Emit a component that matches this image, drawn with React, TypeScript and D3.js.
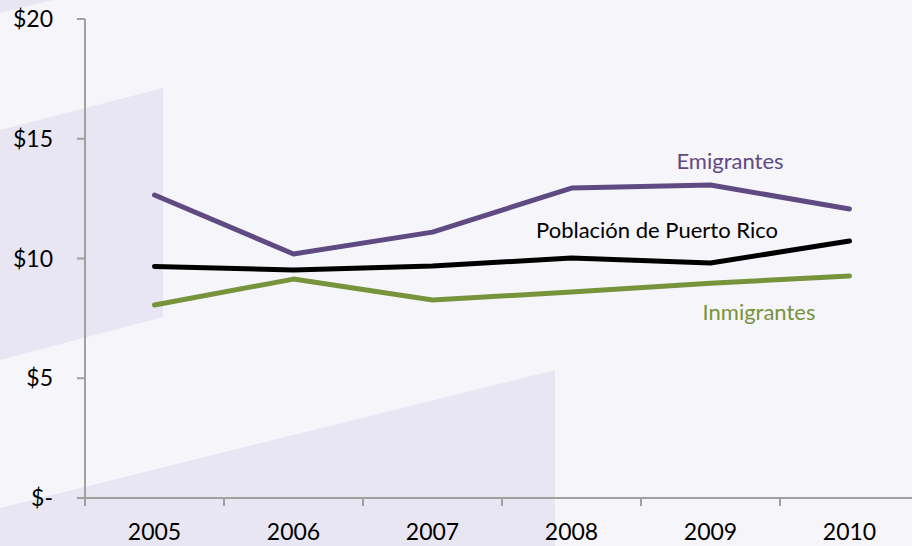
import * as d3 from 'd3';

const years = ['2005', '2006', '2007', '2008', '2009', '2010'];
const emigrantes = [12.65, 10.19, 11.1, 12.94, 13.07, 12.07];
const poblacion = [9.67, 9.52, 9.69, 10.02, 9.81, 10.73];
const inmigrantes = [8.06, 9.14, 8.27, 8.6, 8.97, 9.27];
const yTicks = [0, 5, 10, 15, 20];

const seriesNames = ['Emigrantes', 'Población de Puerto Rico', 'Inmigrantes'];
const seriesColors = ['#5f4a82', '#000000', '#77933c'];

export default function App() {
  const width = 912;
  const height = 546;
  const left = 85;
  const band = 139;

  const x = d3.scaleBand<string>()
    .domain(years)
    .range([left, left + band * years.length]);

  const y = d3.scaleLinear().domain([0, 20]).range([498, 19]);

  const line = d3.line<number>()
    .x((_, i) => (x(years[i]) as number) + x.bandwidth() / 2)
    .y(d => y(d));

  const series = [emigrantes, poblacion, inmigrantes];
  const labelPos = [
    { x: 730, y: 169 },
    { x: 657, y: 238 },
    { x: 759, y: 320 },
  ];

  const font = 'Lato, "Open Sans", sans-serif';

  return (
    <svg width={width} height={height} style={{ position: 'absolute', left: 0, top: 0, display: 'block' }}>
      <rect width={width} height={height} fill="#f6f5fa" />
      {/* background decoration */}
      <polygon points="0,13 53,0 0,0" fill="#e8e6f2" />
      <polygon points="0,130 163,88 163,317 0,360" fill="#e8e6f2" />
      <polygon points="0,508 555,370 555,546 0,546" fill="#e8e6f2" />

      {/* y axis */}
      <line x1={left} x2={left} y1={y(20)} y2={y(0)} stroke="#a0a0a0" strokeWidth={2} />
      {yTicks.map(t => (
        <g key={t}>
          <line x1={left - 8} x2={left} y1={y(t)} y2={y(t)} stroke="#a0a0a0" strokeWidth={2} />
          <text x={53} y={y(t)} dy="0.35em" textAnchor="end" fontFamily={font} fontSize={23} fill="#000">
            {t === 0 ? '$-' : `$${t}`}
          </text>
        </g>
      ))}

      {/* x axis */}
      <line x1={left} x2={width} y1={y(0)} y2={y(0)} stroke="#a0a0a0" strokeWidth={2} />
      {years.map(yr => (
        <g key={yr}>
          <line x1={x(yr) as number} x2={x(yr) as number} y1={y(0)} y2={y(0) + 8} stroke="#a0a0a0" strokeWidth={2} />
          <text
            x={(x(yr) as number) + x.bandwidth() / 2}
            y={532}
            dy="0.35em"
            textAnchor="middle"
            fontFamily={font}
            fontSize={23}
            fill="#000"
          >
            {yr}
          </text>
        </g>
      ))}

      {/* lines */}
      {series.map((s, i) => (
        <path
          key={seriesNames[i]}
          d={line(s) || ''}
          fill="none"
          stroke={seriesColors[i]}
          strokeWidth={5}
          strokeLinecap="round"
          strokeLinejoin="round"
        />
      ))}

      {/* labels */}
      {seriesNames.map((n, i) => (
        <text
          key={n}
          x={labelPos[i].x}
          y={labelPos[i].y}
          textAnchor="middle"
          fontFamily={font}
          fontSize={22}
          fill={seriesColors[i]}
        >
          {n}
        </text>
      ))}
    </svg>
  );
}
